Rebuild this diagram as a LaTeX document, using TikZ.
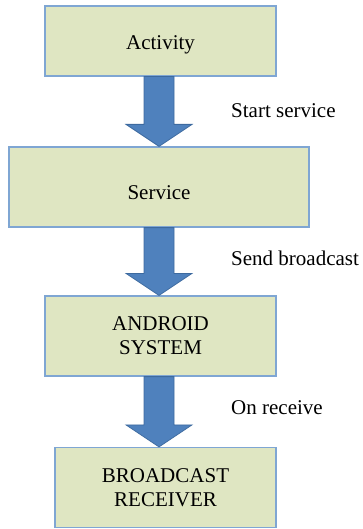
\documentclass[tikz,border=0pt]{standalone}
\usepackage{fontspec}
\setmainfont{Liberation Serif}
\usetikzlibrary{calc}

\definecolor{boxfill}{HTML}{DFE6C2}
\definecolor{boxline}{HTML}{7FA6D3}
\definecolor{arrowfill}{HTML}{4F81BD}
\definecolor{arrowline}{HTML}{3D6A9F}

\begin{document}
\begin{tikzpicture}[
		x=1pt, y=1pt,
		font=\fontsize{21}{24}\selectfont,
		line join=miter,
		stepbox/.style={draw=boxline, fill=boxfill, line width=1.2pt, align=center, inner sep=0pt},
		blockarrow/.style={fill=arrowfill, draw=arrowline, line width=0.8pt}
		]
		
		\useasboundingbox (0,0) rectangle (362,-529);
		
		% boxes
		\node[stepbox, minimum width=231pt, minimum height=70pt] (act) at (160.5,-41) {\raisebox{-4pt}[\height][\depth]{Activity}};
		\node[stepbox, minimum width=300pt, minimum height=80pt] (srv) at (159,-187) {\raisebox{-6pt}[\height][\depth]{Service}};
		\node[stepbox, minimum width=231pt, minimum height=80pt] (sys) at (160.5,-336) {ANDROID\\SYSTEM};
		\node[stepbox, minimum width=221pt, minimum height=80pt] (rcv) at (165.5,-487.5) {BROADCAST\\RECEIVER};
		
		\coordinate (spine) at (159,0);
		
		% arrows
		\foreach \a/\b in {act/srv, srv/sys, sys/rcv} {
			\draw[blockarrow] let \p1=(spine |- \a.south), \p2=(spine |- \b.north) in 
			(\x1-15pt,\y1) -- (\x1-15pt,\y2+22pt) -- (\x1-33pt,\y2+22pt) -- (\p2) -- 
			(\x1+33pt,\y2+22pt) -- (\x1+15pt,\y2+22pt) -- (\x1+15pt,\y1) -- cycle;
		}
		
		% labels
		\node[anchor=west, inner sep=0pt] (lstart) at (231,-111) {Start service};
		\node[anchor=west, inner sep=0pt] (lsend) at (231,-258) {Send broadcast};
		\node[anchor=west, inner sep=0pt] (lrecv) at (231,-408) {On receive};
		
	\end{tikzpicture}
\end{document}
